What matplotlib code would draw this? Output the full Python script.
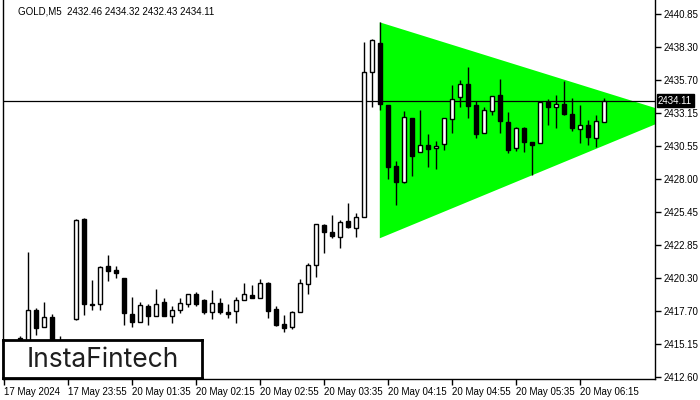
import matplotlib
matplotlib.use("Agg")
from matplotlib import pyplot as plt
from matplotlib.patches import Polygon
from matplotlib.transforms import blended_transform_factory

plt.rcParams["font.family"] = ["Liberation Sans", "DejaVu Sans"]

symbol = "GOLD,M5"
last_ohlc = [2432.46, 2434.32, 2432.43, 2434.11]

# M5 candles (first few sit behind the logo)
opens = [2414.90, 2414.70, 2415.50, 2415.10, 2417.79, 2416.47, 2417.25, 2415.00, 2415.30, 2417.09,
         2424.88, 2418.24, 2418.24, 2421.25, 2420.91, 2420.29, 2417.46, 2416.84, 2418.11, 2417.33,
         2418.39, 2417.33, 2417.77, 2418.26, 2419.02, 2418.57, 2417.61, 2418.32, 2417.61, 2417.72,
         2418.57, 2418.94, 2418.71, 2419.87, 2417.85, 2416.70, 2416.49, 2417.61, 2419.80, 2421.28,
         2424.42, 2423.87, 2423.50, 2424.73, 2424.21, 2425.06, 2436.33, 2438.61, 2433.74, 2429.01,
         2427.79, 2432.73, 2430.08, 2430.62, 2430.39, 2430.70, 2432.65, 2434.41, 2435.37, 2433.74,
         2431.56, 2433.27, 2434.54, 2432.44, 2430.44, 2431.95, 2430.86, 2430.78, 2433.97, 2433.58,
         2433.84, 2433.04, 2431.87, 2432.18, 2431.17, 2432.46]
highs = [2415.20, 2415.10, 2415.77, 2422.31, 2417.95, 2418.42, 2417.48, 2415.77, 2415.40, 2424.88,
         2424.96, 2420.13, 2421.25, 2422.08, 2421.25, 2420.29, 2418.78, 2418.42, 2418.26, 2419.41,
         2418.71, 2418.13, 2418.75, 2419.02, 2419.17, 2418.65, 2419.35, 2418.71, 2418.24, 2418.83,
         2419.87, 2419.74, 2420.21, 2420.00, 2418.11, 2417.41, 2417.72, 2420.21, 2421.48, 2424.47,
         2424.49, 2425.19, 2424.81, 2426.11, 2425.33, 2438.69, 2438.90, 2440.20, 2433.76, 2429.40,
         2433.29, 2432.75, 2433.37, 2431.48, 2430.96, 2432.73, 2435.32, 2435.71, 2436.70, 2434.07,
         2433.58, 2434.50, 2435.79, 2433.22, 2432.07, 2432.03, 2430.86, 2433.97, 2434.21, 2434.54,
         2435.63, 2434.28, 2433.76, 2432.59, 2432.98, 2434.32]
lows = [2414.30, 2414.20, 2414.90, 2414.80, 2415.85, 2416.47, 2414.50, 2414.40, 2414.60, 2417.01,
        2417.41, 2417.79, 2417.79, 2420.08, 2420.26, 2416.63, 2416.45, 2416.84, 2416.65, 2417.33,
        2417.35, 2416.76, 2417.54, 2418.01, 2418.13, 2417.46, 2417.07, 2417.52, 2417.15, 2416.76,
        2418.57, 2418.71, 2418.71, 2417.15, 2416.55, 2416.06, 2416.29, 2417.61, 2419.02, 2420.39,
        2422.21, 2423.38, 2422.60, 2424.21, 2423.46, 2425.01, 2433.63, 2433.37, 2428.02, 2425.97,
        2427.66, 2428.26, 2430.08, 2428.96, 2428.78, 2430.26, 2431.56, 2433.63, 2432.77, 2431.22,
        2431.56, 2432.98, 2431.58, 2430.05, 2430.20, 2430.12, 2428.31, 2430.78, 2432.20, 2431.99,
        2432.98, 2431.74, 2430.83, 2430.65, 2430.51, 2432.43]
closes = [2414.70, 2414.90, 2415.62, 2417.79, 2416.39, 2417.25, 2414.90, 2415.30, 2414.90, 2424.81,
          2418.24, 2418.20, 2421.12, 2420.81, 2420.70, 2417.54, 2416.88, 2418.18, 2417.35, 2418.26,
          2417.35, 2417.77, 2418.32, 2419.02, 2418.24, 2417.61, 2418.32, 2417.61, 2417.51, 2418.57,
          2419.02, 2418.71, 2419.87, 2417.74, 2416.65, 2416.42, 2417.61, 2419.87, 2421.28, 2424.47,
          2423.87, 2423.58, 2424.63, 2424.28, 2425.01, 2436.36, 2438.83, 2433.84, 2428.96, 2427.79,
          2432.80, 2429.81, 2430.62, 2430.31, 2430.57, 2432.73, 2434.21, 2435.37, 2433.71, 2431.48,
          2433.37, 2434.50, 2432.54, 2430.26, 2431.95, 2430.90, 2430.67, 2433.97, 2433.63, 2433.82,
          2433.06, 2431.99, 2432.18, 2431.29, 2432.52, 2434.11]

time_labels = ["17 May 2024", "17 May 23:55", "20 May 01:35", "20 May 02:15", "20 May 02:55",
               "20 May 03:35", "20 May 04:15", "20 May 04:55", "20 May 05:35", "20 May 06:15"]
label_step = 8

price_ticks = [2440.85, 2438.30, 2435.70, 2433.15, 2430.55, 2428.00,
               2425.45, 2422.85, 2420.30, 2417.70, 2415.15, 2412.60]

# symmetrical triangle pattern (bar index, price)
triangle_x = [47, 47, 84.25]
triangle_y = [2440.20, 2423.38, 2432.98]


fig = plt.figure(figsize=(7, 4), dpi=100)
ax = fig.add_axes([3 / 700, 21 / 400, 652 / 700, 379 / 400])
ax.set_xlim(-0.1, 81.4)
ax.set_ylim(2412.42, 2441.94)

ax.add_patch(Polygon(list(zip(triangle_x, triangle_y)), closed=True,
                     facecolor="#00ff00", edgecolor="none", zorder=1))
ax.axhline(last_ohlc[3], color="black", lw=0.9, zorder=2)

idx = list(range(len(opens)))
ax.vlines(idx, lows, highs, color="black", lw=1, zorder=3)
for i in idx:
    o, c = opens[i], closes[i]
    face = "white" if c >= o else "black"
    ax.bar(i, abs(c - o), bottom=min(o, c), width=0.55, color=face,
           edgecolor="black", linewidth=1, zorder=4)

ax.spines["top"].set_visible(False)
for side in ["left", "right", "bottom"]:
    ax.spines[side].set_linewidth(1)

ax.yaxis.tick_right()
ax.set_yticks(price_ticks)
ax.set_yticklabels(["%.2f" % p for p in price_ticks])
ax.tick_params(axis="y", direction="out", length=4, width=1, labelsize=7, pad=2)

ax.set_xticks(range(0, len(time_labels) * label_step, label_step))
ax.set_xticklabels(time_labels, ha="left")
ax.tick_params(axis="x", direction="out", length=4, width=1, labelsize=7, pad=2)

# current price tag on the right scale
trans = blended_transform_factory(ax.transAxes, ax.transData)
ax.text(1.0 + 3 / 652, last_ohlc[3], "%.2f" % last_ohlc[3], transform=trans,
        color="white", fontsize=7, ha="left", va="center", clip_on=False,
        bbox=dict(boxstyle="square,pad=0.15", facecolor="black", edgecolor="black"))

fig.text(18 / 700, 1 - 11 / 400, symbol + "  " + " ".join("%.2f" % v for v in last_ohlc),
         fontsize=7, va="center", ha="left")

# logo box
logo = fig.add_axes([3 / 700, 22 / 400, 199 / 700, 38 / 400])
logo.set_xticks([])
logo.set_yticks([])
logo.set_facecolor("white")
for s in logo.spines.values():
    s.set_linewidth(2)
logo.text(0.5, 0.48, "InstaFintech", family=["Inter", "DejaVu Sans"], fontsize=19,
          color="#1e1e1e", ha="center", va="center", transform=logo.transAxes)

fig.savefig("out.png", dpi=100)
